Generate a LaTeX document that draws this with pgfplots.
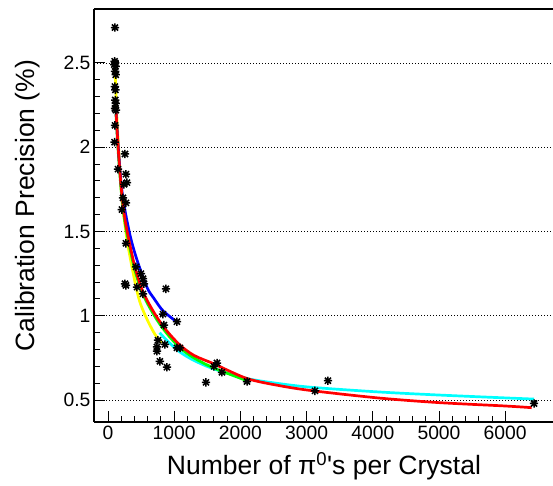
\documentclass[border=0pt]{standalone}
\usepackage{pgfplots}
\pgfplotsset{compat=1.18}
\usepackage{fontspec}
\setmainfont{Liberation Sans}
\definecolor{rYellow}{RGB}{255,255,0}
\definecolor{rBlue}{RGB}{0,0,255}
\definecolor{rGreen}{RGB}{0,255,0}
\definecolor{rCyan}{RGB}{0,255,255}
\definecolor{rRed}{RGB}{255,0,0}
\pgfdeclareplotmark{rstar}{%
 \pgfpathmoveto{\pgfpoint{-\pgfplotmarksize}{0pt}}\pgfpathlineto{\pgfpoint{\pgfplotmarksize}{0pt}}%
 \pgfpathmoveto{\pgfpoint{0pt}{-\pgfplotmarksize}}\pgfpathlineto{\pgfpoint{0pt}{\pgfplotmarksize}}%
 \pgfpathmoveto{\pgfpoint{-0.72\pgfplotmarksize}{-0.72\pgfplotmarksize}}\pgfpathlineto{\pgfpoint{0.72\pgfplotmarksize}{0.72\pgfplotmarksize}}%
 \pgfpathmoveto{\pgfpoint{-0.72\pgfplotmarksize}{0.72\pgfplotmarksize}}\pgfpathlineto{\pgfpoint{0.72\pgfplotmarksize}{-0.72\pgfplotmarksize}}%
 \pgfusepathqstroke}
\begin{document}
\begin{tikzpicture}
\begin{axis}[
 at={(0,0)}, anchor=south west,
 scale only axis, width=459pt, height=413pt,
 xmin=-211, xmax=6722, ymin=0.37, ymax=2.82,
 axis x line=box, axis y line=left,
 axis line style={-, line width=1.4pt, black},
 every outer x axis line/.append style={-},
 every outer y axis line/.append style={-},
 xtick pos=bottom,
 tick align=inside,
 xtick={0,1000,...,6000}, ytick={0.5,1,1.5,2,2.5},
 minor x tick num=4, minor y tick num=4,
 major tick length=11pt, minor tick length=6pt,
 tick style={black, line width=0.9pt},
 scaled x ticks=false,
 /pgf/number format/1000 sep={},
 /pgf/number format/assume math mode=true,
 ticklabel style={font=\fontsize{19.3}{22}\selectfont},
 ymajorgrids, major grid style={black, line width=0.7pt, dash pattern=on 1pt off 2pt},
 xlabel={Number of π\textsuperscript{0}\textquotesingle s per Crystal},
 ylabel={Calibration Precision (\%)},
 label style={font=\fontsize{26.5}{30}\selectfont},
 xlabel style={at={(axis description cs:0.501,-0.1283)}, anchor=base},
 ylabel style={at={(axis description cs:-0.1307,0.524)}, anchor=base},
]
\addplot[only marks, mark=rstar, mark size=4.2pt, black, line width=1.5pt] coordinates {
(106,2.71)
(100,2.51)(110,2.50)(95,2.49)(115,2.48)
(108,2.45)(118,2.43)
(105,2.36)(112,2.34)
(110,2.28)(118,2.26)
(106,2.23)(120,2.22)
(106,2.13)
(100,2.03)
(257,1.96)
(151,1.87)
(272,1.84)
(287,1.79)
(242,1.78)
(227,1.70)
(272,1.67)
(211,1.63)
(272,1.43)
(423,1.29)
(498,1.25)
(529,1.22)
(544,1.19)
(257,1.19)(272,1.18)
(438,1.17)
(876,1.16)
(529,1.13)
(831,1.01)
(1042,0.965)
(846,0.945)
(755,0.855)
(740,0.815)(740,0.79)
(861,0.83)
(1042,0.81)(1088,0.81)
(785,0.73)
(891,0.695)
(1480,0.605)
(1647,0.72)
(1601,0.70)
(1722,0.665)
(2100,0.61)
(3127,0.555)
(3323,0.615)
(6435,0.48)
};
\addplot[rCyan, line width=2.7pt, smooth] coordinates {
(780,0.90)(900,0.85)(1088,0.785)(1300,0.735)(1600,0.685)(2100,0.628)(2600,0.597)(3100,0.575)(4100,0.548)(5000,0.530)(6000,0.513)(6435,0.506)
};
\addplot[rYellow, line width=2.7pt, smooth] coordinates {
(106,2.48)(130,2.22)(160,2.00)(211,1.69)(250,1.56)(300,1.42)(408,1.20)(483,1.08)(589,0.98)(710,0.89)(816,0.84)
};
\addplot[rGreen, line width=2.7pt, smooth] coordinates {
(121,2.20)(150,2.00)(200,1.74)(250,1.57)(300,1.46)(400,1.28)(500,1.155)(600,1.07)(750,0.97)(900,0.89)(1088,0.81)(1300,0.75)(1600,0.69)(2100,0.615)
};
\addplot[rBlue, line width=2.7pt, smooth] coordinates {
(121,2.22)(150,2.03)(200,1.78)(250,1.64)(332,1.48)(400,1.38)(483,1.28)(600,1.16)(700,1.10)(831,1.03)(1042,0.963)
};
\addplot[rRed, line width=2.7pt, smooth] coordinates {
(121,2.22)(150,2.02)(200,1.76)(250,1.59)(300,1.48)(400,1.30)(500,1.17)(600,1.085)(750,0.985)(900,0.905)(1088,0.826)(1300,0.765)(1600,0.715)(2100,0.628)(2600,0.585)(3100,0.555)(4100,0.512)(5000,0.485)(6000,0.465)(6400,0.455)
};
\end{axis}
\pgfresetboundingbox
\path[use as bounding box] (-94pt,-63pt) rectangle (459pt,422pt);
\end{tikzpicture}
\end{document}
